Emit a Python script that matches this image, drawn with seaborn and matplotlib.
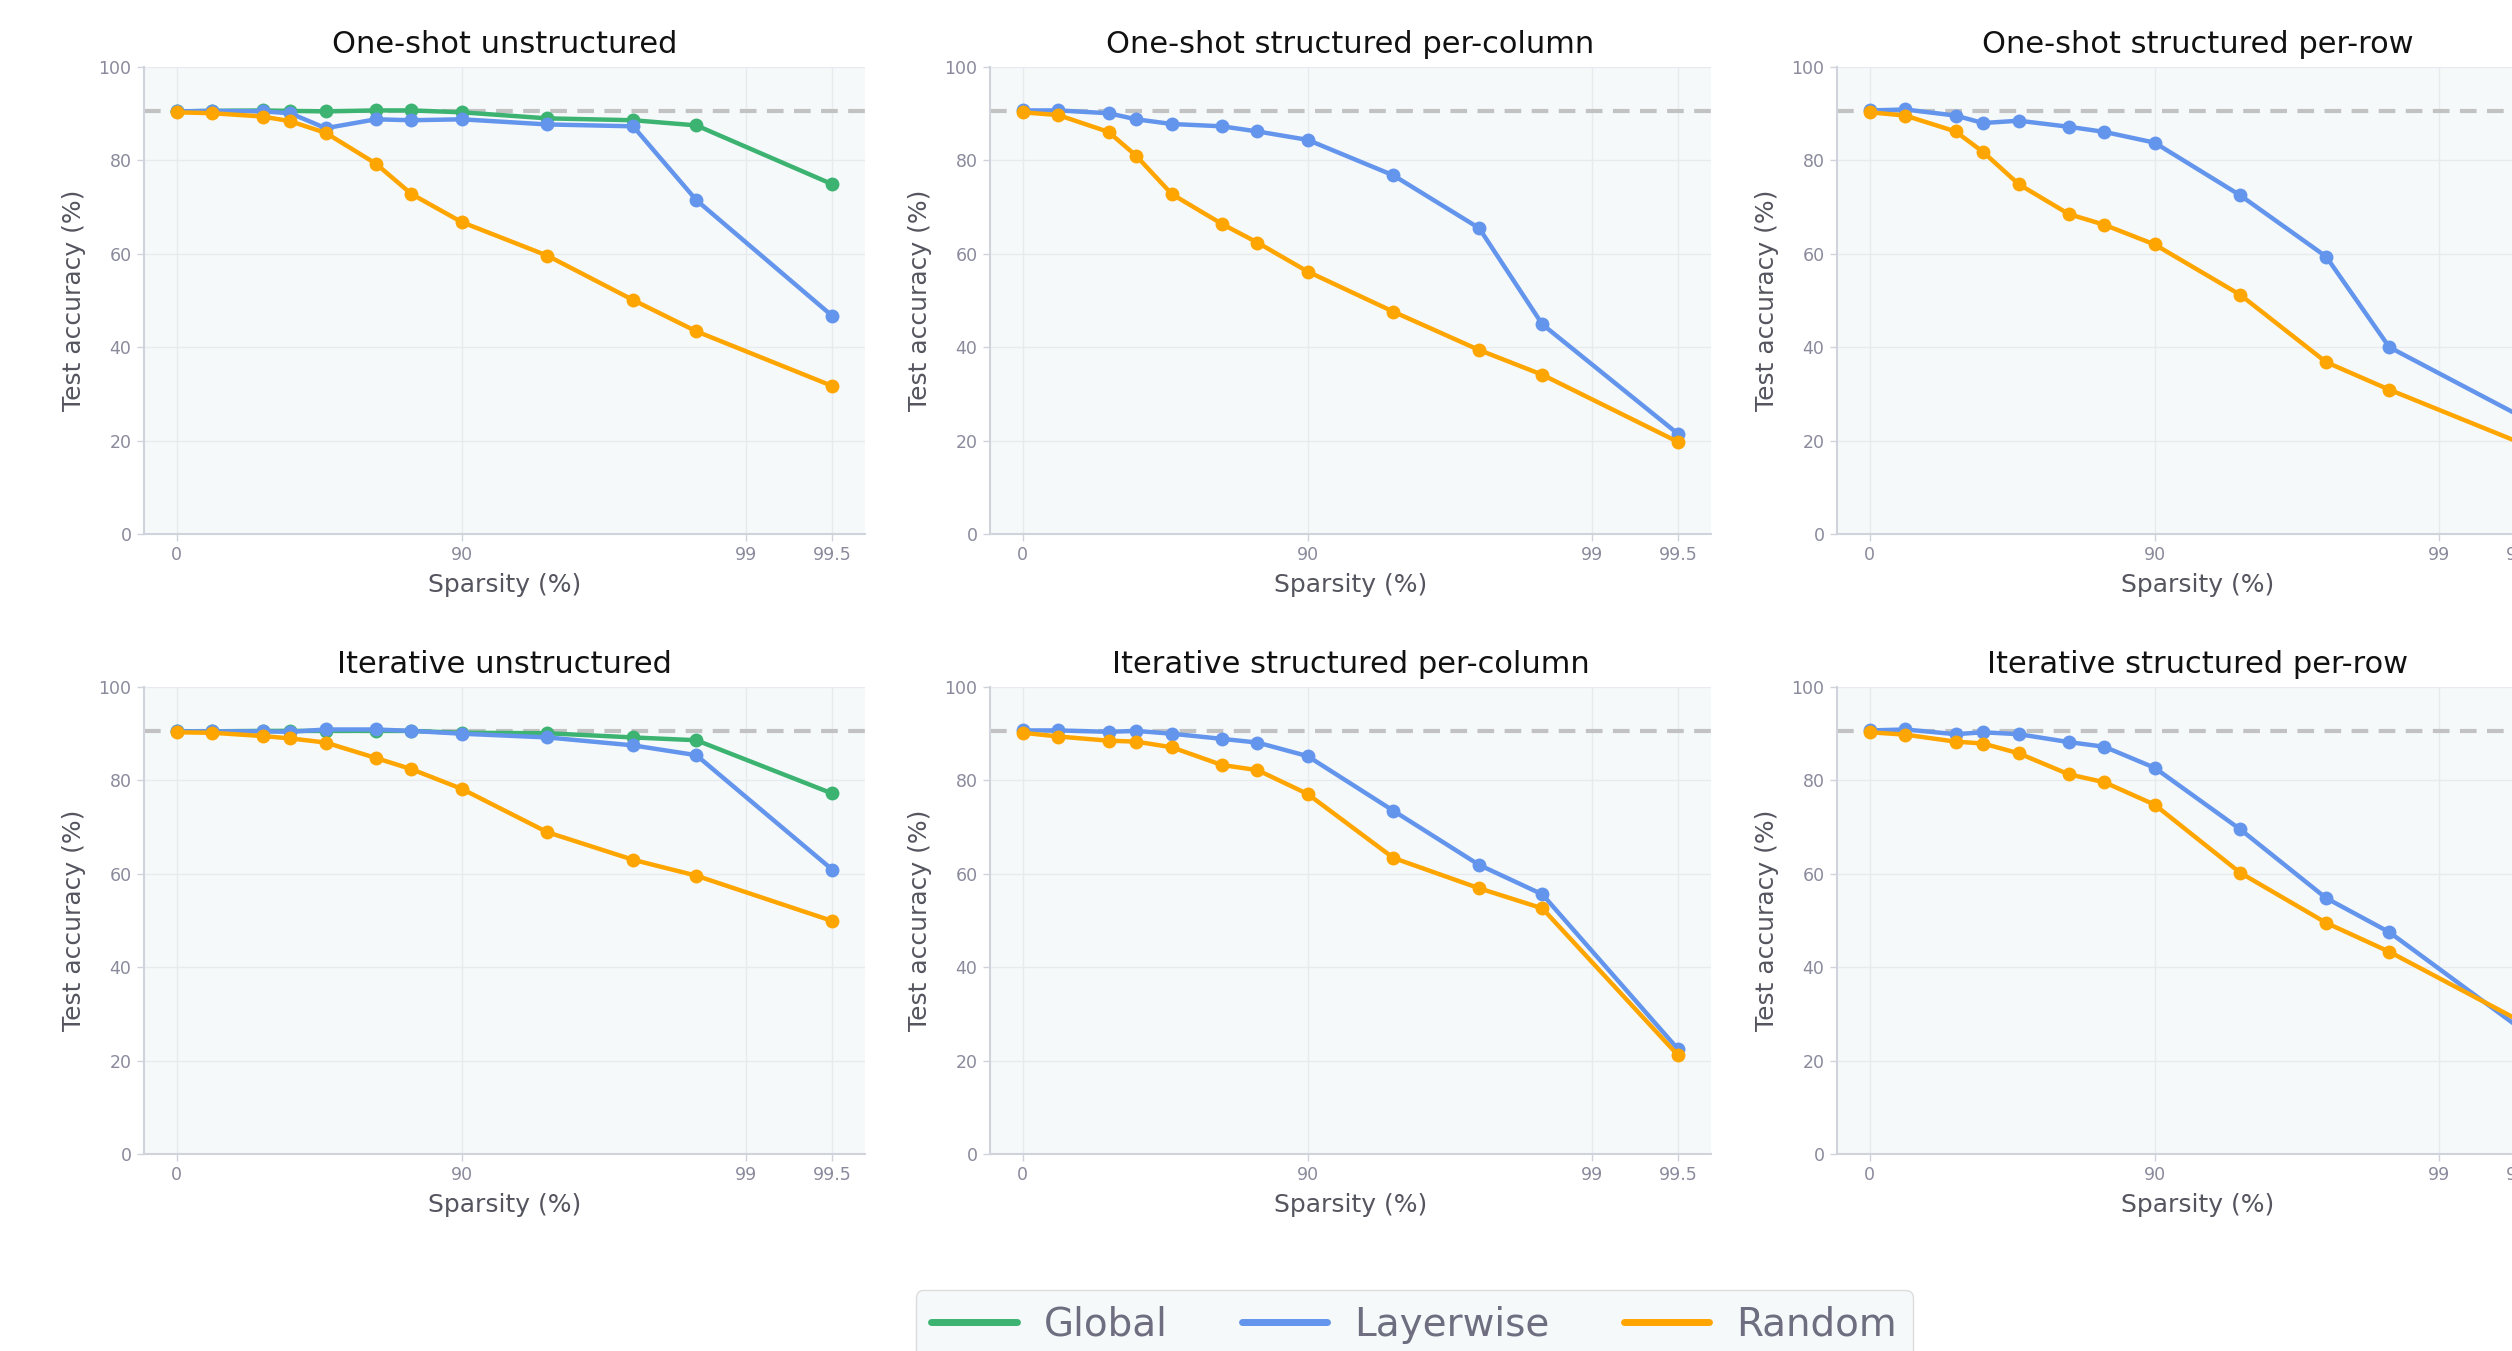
import numpy as np
import pandas as pd
import matplotlib
matplotlib.use("Agg")
import matplotlib.pyplot as plt
from matplotlib.lines import Line2D
import seaborn as sns

# sparsity levels (%) shared by every panel
sparsity = [0, 25, 50, 60, 70, 80, 85, 90, 95, 97.5, 98.5, 99.5]
dense_acc = 90.5

# one-shot
os_unstr_global = [90.5, 90.6, 90.7, 90.6, 90.5, 90.7, 90.7, 90.3, 89.0, 88.6, 87.5, 74.9]
os_unstr_layer = [90.5, 90.6, 90.5, 90.1, 86.9, 88.8, 88.6, 88.8, 87.7, 87.3, 71.5, 46.7]
os_unstr_random = [90.3, 90.1, 89.4, 88.4, 85.9, 79.3, 72.8, 66.8, 59.6, 50.1, 43.4, 31.7]

os_col_layer = [90.7, 90.7, 90.1, 88.8, 87.8, 87.3, 86.2, 84.4, 76.8, 65.5, 44.9, 21.4]
os_col_random = [90.3, 89.7, 86.1, 81.0, 72.8, 66.4, 62.4, 56.2, 47.6, 39.4, 34.1, 19.7]

os_row_layer = [90.7, 90.9, 89.6, 88.0, 88.5, 87.2, 86.1, 83.8, 72.5, 59.4, 40.0, 24.7]
os_row_random = [90.3, 89.6, 86.2, 81.8, 74.9, 68.5, 66.2, 62.0, 51.2, 36.8, 30.9, 19.1]

# iterative
it_unstr_global = [90.5, 90.5, 90.6, 90.6, 90.6, 90.6, 90.6, 90.2, 90.1, 89.2, 88.6, 77.2]
it_unstr_layer = [90.5, 90.5, 90.5, 90.4, 90.9, 90.9, 90.6, 90.0, 89.2, 87.5, 85.4, 60.9]
it_unstr_random = [90.3, 90.2, 89.5, 89.0, 88.1, 84.8, 82.4, 78.2, 68.9, 63.0, 59.6, 49.9]

it_col_layer = [90.7, 90.7, 90.4, 90.6, 90.0, 88.9, 88.1, 85.2, 73.5, 61.9, 55.6, 22.4]
it_col_random = [90.2, 89.4, 88.5, 88.3, 87.1, 83.3, 82.2, 77.1, 63.4, 56.9, 52.6, 21.1]

it_row_layer = [90.7, 90.9, 89.9, 90.3, 89.9, 88.2, 87.2, 82.7, 69.5, 54.8, 47.5, 26.1]
it_row_random = [90.3, 89.8, 88.3, 87.9, 85.8, 81.3, 79.6, 74.8, 60.2, 49.5, 43.3, 27.9]

panel_titles = [
    "One-shot unstructured", "One-shot structured per-column", "One-shot structured per-row",
    "Iterative unstructured", "Iterative structured per-column", "Iterative structured per-row",
]
panel_series = [
    {"Global": os_unstr_global, "Layerwise": os_unstr_layer, "Random": os_unstr_random},
    {"Layerwise": os_col_layer, "Random": os_col_random},
    {"Layerwise": os_row_layer, "Random": os_row_random},
    {"Global": it_unstr_global, "Layerwise": it_unstr_layer, "Random": it_unstr_random},
    {"Layerwise": it_col_layer, "Random": it_col_random},
    {"Layerwise": it_row_layer, "Random": it_row_random},
]
xticks = [0, 90, 99, 99.5]
xtick_labels = ["0", "90", "99", "99.5"]
palette = {"Global": "mediumseagreen", "Layerwise": "cornflowerblue", "Random": "orange"}

TICK_C = "#8a8a9c"
LABEL_C = "#55555f"
SPINE_C = "#d0d3dc"

sns.set_theme(style="whitegrid", rc={
    "axes.facecolor": "#f5f9fa",
    "axes.edgecolor": SPINE_C,
    "grid.color": "#e7eaee",
    "grid.linewidth": 1.0,
    "xtick.color": TICK_C,
    "ytick.color": TICK_C,
    "xtick.bottom": True,
    "ytick.left": True,
})
plt.rcParams["font.family"] = ["DejaVu Sans"]


def fwd(s):
    s = np.asarray(s, dtype=float)
    return -np.log10(np.clip(1 - s / 100.0, 1e-9, None))


def inv(t):
    return 100.0 * (1 - 10.0 ** (-np.asarray(t, dtype=float)))


W, H = 2512, 1351
fig = plt.figure(figsize=(W / 100, H / 100), dpi=100)

# axes boxes in pixels; the right column runs past the figure edge, as in the original crop
col_left = [144, 990, 1837]
row_top = [67, 687]
ax_w, ax_h = 721, 467

span = fwd(99.5) - fwd(0)
xlo, xhi = inv(-0.05 * span), inv(fwd(99.5) + 0.05 * span)

for i, (title, series) in enumerate(zip(panel_titles, panel_series)):
    r, c = divmod(i, 3)
    ax = fig.add_axes([col_left[c] / W, 1 - (row_top[r] + ax_h) / H, ax_w / W, ax_h / H])
    ax.set_xscale("function", functions=(fwd, inv))

    df = pd.concat(
        [pd.DataFrame({"sparsity": sparsity, "acc": vals, "method": name}) for name, vals in series.items()],
        ignore_index=True,
    )
    ax.axhline(dense_acc, color="#c2c2c2", lw=3, ls=(0, (4, 2.5)), zorder=1)
    sns.lineplot(
        data=df, x="sparsity", y="acc", hue="method", hue_order=list(series.keys()),
        palette=palette, marker="o", markersize=10, markeredgewidth=0, linewidth=3.2,
        errorbar=None, legend=False, ax=ax, zorder=3,
    )
    ax.set_xlim(xlo, xhi)
    ax.set_ylim(0, 100)
    ax.set_xticks(xticks)
    ax.set_xticklabels(xtick_labels)
    ax.set_yticks([0, 20, 40, 60, 80, 100])
    ax.tick_params(axis="both", labelsize=12.5, length=5, width=1, color=SPINE_C, pad=4)
    ax.set_title(title, fontsize=22, color="#111111", pad=10)
    ax.set_xlabel("Sparsity (%)", fontsize=18, color=LABEL_C, labelpad=6)
    ax.set_ylabel("Test accuracy (%)", fontsize=18, color=LABEL_C, labelpad=9)
    sns.despine(ax=ax)
    for side in ("left", "bottom"):
        ax.spines[side].set_color(SPINE_C)
        ax.spines[side].set_linewidth(1.5)

handles = [Line2D([0], [0], color=palette[m], lw=5) for m in palette]
leg = fig.legend(
    handles, list(palette.keys()), loc="upper center", bbox_to_anchor=(0.563, 0.045),
    ncol=3, fontsize=28, frameon=True, handlelength=2.2, handletextpad=0.7,
    columnspacing=1.9, borderaxespad=0, fancybox=True,
)
leg.get_frame().set_facecolor("#f5f9fa")
leg.get_frame().set_edgecolor("#dcdcdc")
leg.get_frame().set_alpha(1)
for t in leg.get_texts():
    t.set_color("#6e6e80")

fig.savefig("out.png", dpi=100)
